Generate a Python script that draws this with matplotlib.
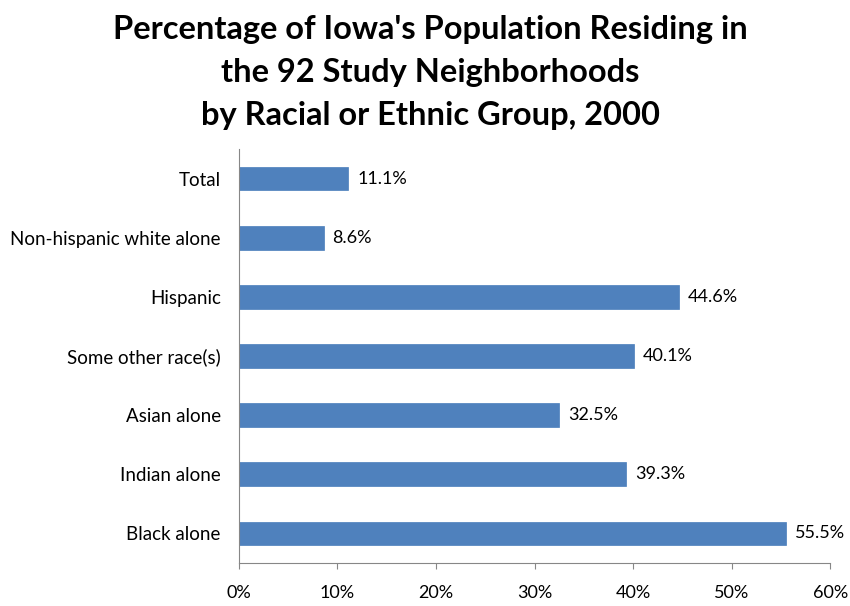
import matplotlib
matplotlib.use('Agg')
import matplotlib.pyplot as plt
import numpy as np

plt.rcParams['font.family'] = ['Lato', 'DejaVu Sans']

### Data (top to bottom as in the chart)
groups = ['Total', 'Non-hispanic white alone', 'Hispanic', 'Some other race(s)',
          'Asian alone', 'Indian alone', 'Black alone']
pct = [11.1, 8.6, 44.6, 40.1, 32.5, 39.3, 55.5]
xticks = [0, 10, 20, 30, 40, 50, 60]

fig = plt.figure(figsize=(8.5, 6.06), dpi=100)
ax = fig.add_axes([0.281, 0.071, 0.696, 0.683])

y = np.arange(len(groups))[::-1]
ax.barh(y, pct, height=0.4, color='#4F81BD', edgecolor='#4A7EBB', linewidth=0.5)

for yi, v in zip(y, pct):
    ax.text(v + 0.9, yi, '%.1f%%' % v, va='center', ha='left', fontsize=13)

ax.set_xlim(0, 60)
ax.set_ylim(-0.5, len(groups) - 0.5)
ax.set_xticks(xticks)
ax.set_xticklabels(['%d%%' % t for t in xticks], fontsize=13)
ax.set_yticks(y)
ax.set_yticklabels(groups, fontsize=13.5)
ax.tick_params(axis='y', length=0, pad=13)
ax.tick_params(axis='x', length=4.5, color='#878787', pad=11)

for s in ['top', 'right']:
    ax.spines[s].set_visible(False)
for s in ['left', 'bottom']:
    ax.spines[s].set_color('#878787')

fig.text(0.506, 0.975, "Percentage of Iowa's Population Residing in\nthe 92 Study Neighborhoods\nby Racial or Ethnic Group, 2000",
         ha='center', va='top', fontsize=23.5, fontweight='bold', linespacing=1.58)

fig.savefig('out.png', dpi=100)
